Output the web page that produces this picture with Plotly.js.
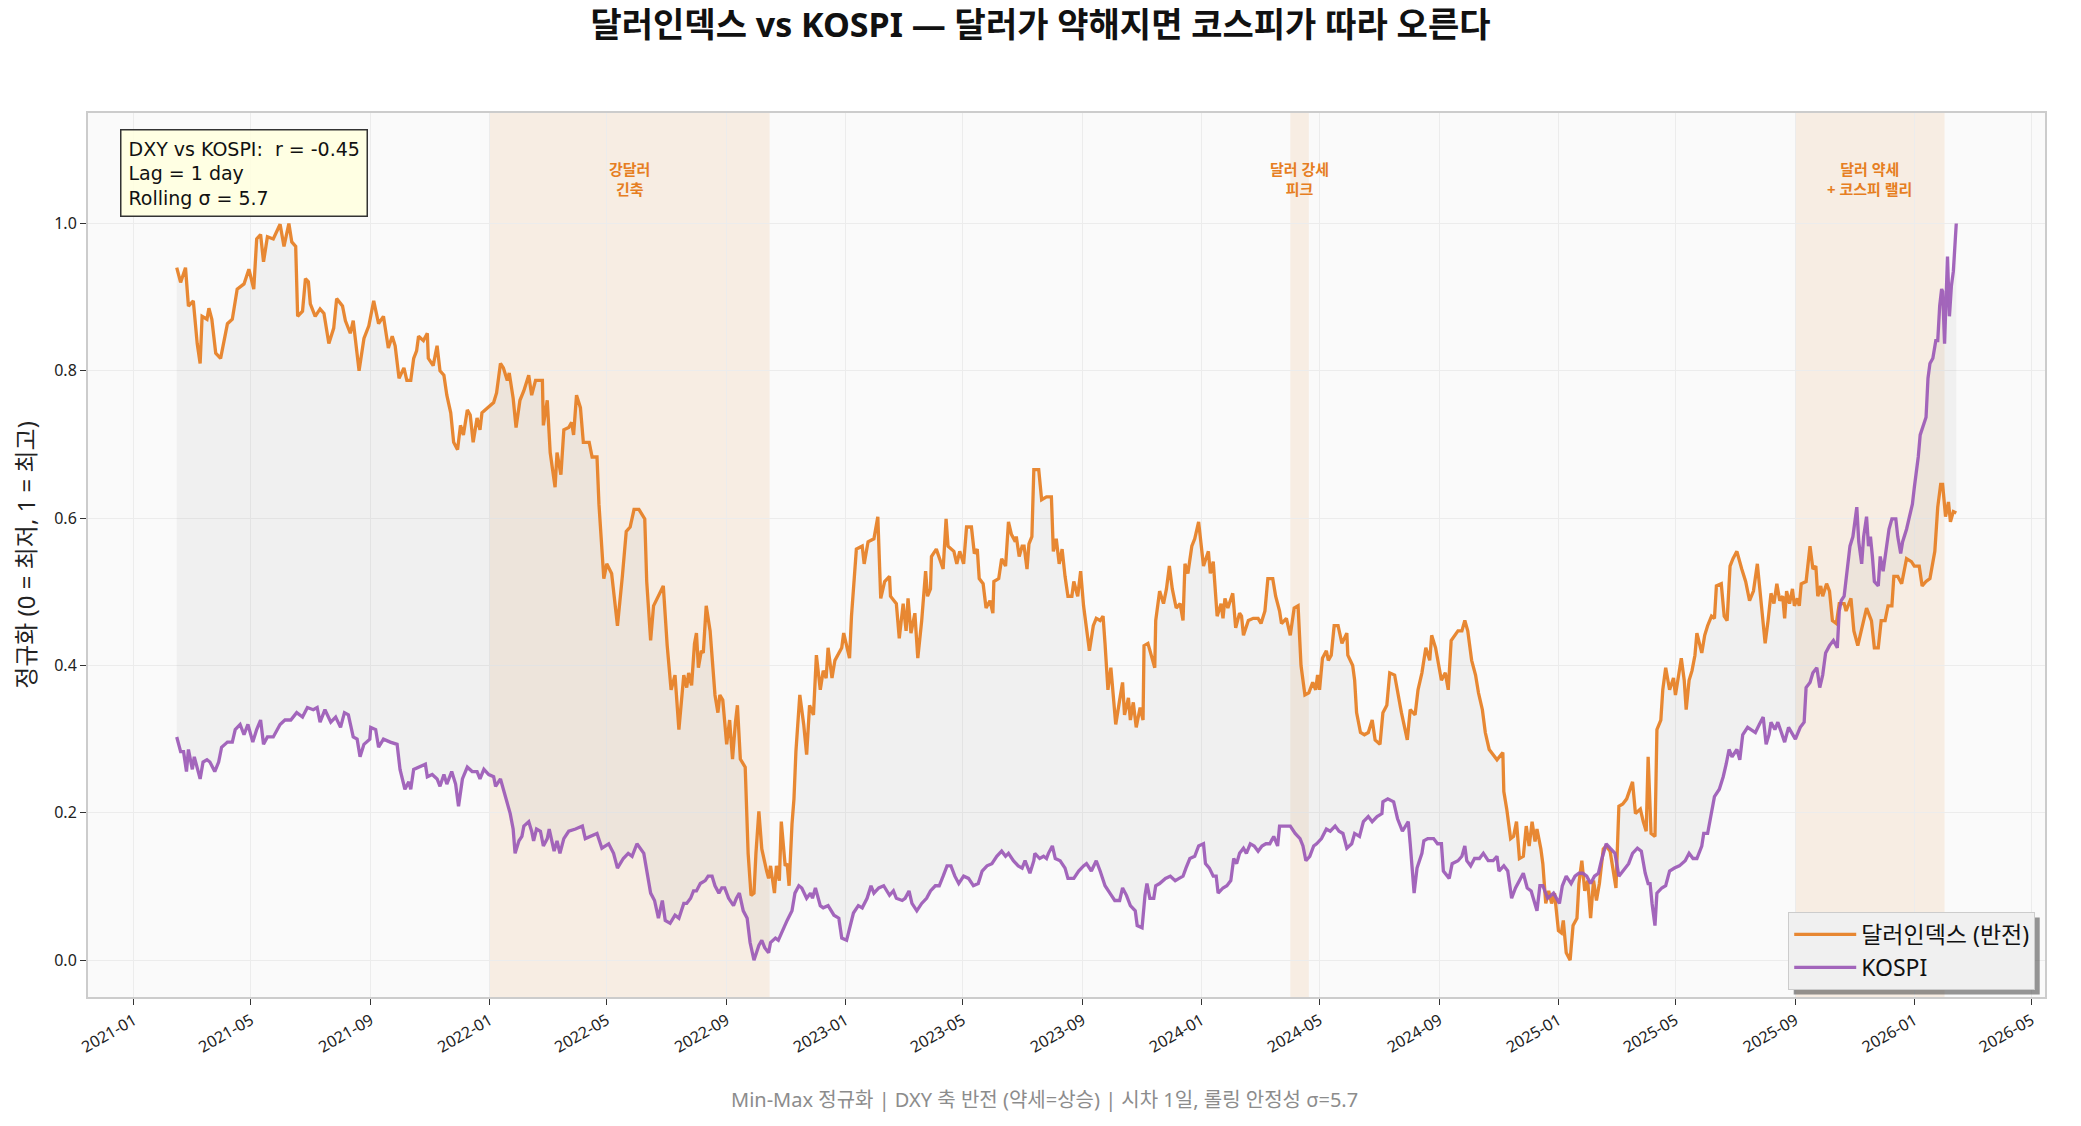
<!DOCTYPE html>
<html>
<head>
<meta charset="utf-8">
<script src="https://cdn.plot.ly/plotly-3.0.1.min.js"></script>
<style>
  html, body { margin: 0; padding: 0; background: #ffffff; }
  #chart { width: 2081px; height: 1126px; }
</style>
</head>
<body>
<div id="chart"></div>
<script>
// x values are days since 2021-01-01
const dxyDays = [
  44,48,53,56,61,65,68,70,75,77, 80,84,89,96,101,106,113,118,123,126,
  130,133,137,143,150,154,159,162,166,168, 173,176,179,181,186,191,195,200,205,208,
  214,217,222,225,231,236,241,246,251,256, 261,265,268,272,277,280,284,287,290,292,
  297,301,302,307,311,314,318,321,325,328, 332,335,338,342,345,348,352,355,357,366,
  369,372,376,379,383,385,389,392,396,400, 405,408,412,419,420,424,427,432,434,438,
  441,446,449,451,454,458,461,467,470,475, 477,482,485,490,496,501,505,509,513,518,
  524,526,530,533,538,543,547,551,555,559,
  564,567,569,572,575,577,579,582,584,587, 591,594,596,599,601,604,608,611,614,617,
  619,622,627,630,633,636,638,641,644,649, 651,653,657,659,662,664,668,670,672,675,
  677,679,683,687,690,693,697,700,704,707, 710,712,716,719,723,726,728,731,734,736,
  738,741,747,749,753,759,763,766,770,775, 776,782,785,789,792,794,797,801,804,808,
  812,814,817,818,823,830,833,835,841,844, 847,851,854,859,862,865,867,871,874,878,
  881,882,887,890,894,897,900,904,905,908, 911,913,916,918,921,923,928,931,936,941,
  943,946,949,952,955,958,962,964,968,971, 974,977,980,984,987,991,994,996,999,1002,
  1004,1007,1011,1014,1016,1020,1022,1025,1028,1032, 1035,1036,1040,1043,1047,1048,1052,1056,1059,1062,
  1065,1069,1073,1076,1078,1081,1085,1088,1092,
  1097,1102,1104,1107,1111,1115,1117,1119,1122,1127, 1130,1134,1136,1138,1143,1148,1153,1156,1160,1163,
  1168,1171,1175,1177,1182,1186,1190,1194,1197,1201, 1205,1209,1212,1214,1216,1219,1223,1225,1228,1231,
  1235,1239,1244,1245,1250,1252,1254,1258,1262,1266, 1270,1273,1278,1281,1285,1288,1293,1297,1300,1306,
  1309,1314,1317,1321,1325,1329,1331,1335,1338,1341, 1345,1348,1351,1355,1358,1362,1365,1368,1372,1376,
  1379,1383,1386,1390,1394,1398,1404,1405,1408,1412, 1415,1418,1421,1425,1428,1431,1434,1437,1439,1443,
  1445,1448,1451,1454,1457,1461,1464,1466,1469,1473, 1476,1480,1482,1485,1488,1491,1494,1497,1500,1503,
  1507,1510,1514,1517,1520,1523,1527,1531,1534,1537, 1540,1545,1548,1551,1553,1556,1560,1562,1566,1568,
  1571,1575,1579,1581,1585,1587,1590,1592,1595,1598, 1601,1603,1608,1611,1614,1618,1621,
  1623,1628,1631,1634,1637,1640,1644,1649,1653,1657, 1661,1665,1667,1670,1673,1676,1679,1682,1685,1688,
  1691,1693,1695,1698,1701,1703,1706,1708,1710,1715, 1717,1719,1722,1725,1727,1730,1732,1736,1739,1742,
  1746,1749,1754,1756,1761,1764,1768,1772,1777,1782, 1785,1789,1792,1796,1799,1803,1805,1809,1813,1818,
  1823,1826,1831,1834,1838,1842,1847,1850,1853,1855, 1858,1861,1863,1866,1869
];
// dollar index, min-max normalised and inverted (weak dollar = up)
const dxyVals = [
  0.94,0.92,0.94,0.888,0.895,0.837,0.81,0.874,0.87,0.885, 0.87,0.824,0.817,0.864,0.87,0.911,0.918,0.938,0.911,0.979,
  0.985,0.948,0.982,0.979,0.999,0.969,1.0,0.975,0.969,0.874, 0.881,0.925,0.921,0.891,0.874,0.884,0.878,0.837,0.858,0.898,
  0.888,0.868,0.851,0.868,0.8,0.844,0.861,0.895,0.864,0.874, 0.831,0.847,0.834,0.79,0.804,0.787,0.787,0.817,0.827,0.847,
  0.841,0.851,0.817,0.807,0.834,0.8,0.794,0.767,0.743,0.703, 0.693,0.726,0.713,0.747,0.74,0.703,0.736,0.72,0.743,0.753,
  0.757,0.77,0.81,0.804,0.787,0.797,0.763,0.723,0.76,0.773, 0.794,0.767,0.787,0.787,0.726,0.76,0.689,0.642,0.689,0.659,
  0.72,0.723,0.73,0.713,0.767,0.75,0.703,0.703,0.683,0.683, 0.619,0.518,0.538,0.525,0.454,0.521,0.582,0.588,0.612,0.612,
  0.599,0.514,0.434,0.481,0.494,0.508,0.427,0.367,0.387,0.313,
  0.387,0.37,0.39,0.373,0.43,0.444,0.397,0.42,0.417,0.481, 0.447,0.4,0.36,0.336,0.36,0.353,0.293,0.326,0.273,0.323,
  0.346,0.273,0.262,0.145,0.088,0.091,0.145,0.202,0.151,0.121, 0.111,0.128,0.091,0.128,0.108,0.188,0.128,0.131,0.101,0.185,
  0.219,0.283,0.36,0.32,0.279,0.346,0.333,0.414,0.367,0.393, 0.383,0.424,0.383,0.407,0.417,0.424,0.444,0.427,0.41,0.467,
  0.508,0.558,0.562,0.538,0.568,0.572,0.602,0.491,0.514,0.521, 0.494,0.484,0.437,0.484,0.447,0.491,0.444,0.471,0.41,0.461,
  0.528,0.494,0.504,0.548,0.558,0.531,0.599,0.562,0.555,0.538, 0.555,0.538,0.588,0.588,0.552,0.558,0.518,0.511,0.478,0.488,
  0.471,0.514,0.518,0.545,0.535,0.595,0.578,0.568,0.575,0.548, 0.562,0.562,0.531,0.565,0.575,0.666,0.666,0.625,0.629,0.629,
  0.555,0.572,0.538,0.558,0.521,0.494,0.494,0.514,0.494,0.528, 0.481,0.447,0.42,0.454,0.464,0.461,0.467,0.43,0.367,0.397,
  0.36,0.32,0.353,0.377,0.333,0.356,0.326,0.35,0.316,0.343, 0.326,0.427,0.43,0.414,0.397,0.461,0.501,0.484,0.504,0.535,
  0.504,0.478,0.484,0.461,0.538,0.525,0.562,0.572,0.595,
  0.535,0.555,0.525,0.541,0.467,0.484,0.464,0.491,0.478,0.498, 0.451,0.471,0.467,0.441,0.461,0.464,0.464,0.457,0.474,0.518,
  0.518,0.494,0.474,0.457,0.464,0.441,0.478,0.481,0.4,0.36, 0.363,0.377,0.367,0.387,0.367,0.41,0.42,0.407,0.414,0.454,
  0.454,0.43,0.444,0.414,0.4,0.38,0.336,0.309,0.306,0.309, 0.326,0.299,0.293,0.336,0.346,0.39,0.387,0.356,0.336,0.299,
  0.34,0.333,0.367,0.39,0.424,0.407,0.441,0.424,0.4,0.38, 0.39,0.367,0.434,0.441,0.447,0.447,0.461,0.447,0.407,0.387,
  0.363,0.34,0.309,0.286,0.279,0.272,0.282,0.229,0.205,0.165, 0.168,0.188,0.138,0.141,0.182,0.155,0.188,0.161,0.178,0.151,
  0.131,0.077,0.094,0.077,0.091,0.04,0.037,0.054,0.01,0.0, 0.047,0.057,0.104,0.135,0.094,0.108,0.057,0.108,0.081,0.104,
  0.151,0.155,0.148,0.125,0.098,0.209,0.212,0.219,0.229,0.242, 0.199,0.205,0.188,0.175,0.276,0.172,0.168,0.313,0.326,0.367,
  0.397,0.367,0.383,0.36,0.393,0.41,0.38,0.34,0.38,0.393, 0.414,0.444,0.417,0.441,0.454,0.467,0.464,
  0.508,0.511,0.467,0.461,0.535,0.545,0.555,0.531,0.514,0.488, 0.501,0.538,0.508,0.474,0.43,0.461,0.498,0.484,0.511,0.488,
  0.494,0.464,0.501,0.484,0.504,0.481,0.491,0.481,0.511,0.514, 0.538,0.562,0.531,0.535,0.494,0.508,0.494,0.511,0.501,0.461,
  0.457,0.484,0.484,0.474,0.491,0.447,0.427,0.451,0.478,0.461, 0.424,0.424,0.461,0.461,0.481,0.481,0.521,0.521,0.511,0.545,
  0.541,0.535,0.535,0.508,0.514,0.518,0.555,0.615,0.646,0.646, 0.602,0.622,0.595,0.609,0.607
];

const kospiDays = [
  44,48,51,54,56,60,62,65,68,71, 75,78,83,87,90,96,101,104,109,113,
  117,122,126,130,133,137,143,150,155,161, 167,173,178,184,188,191,196,202,207,212,
  216,220,225,229,232,236,242,243,248,251, 256,263,270,273,278,282,284,287,292,299,
  301,306,311,314,318,321,326,330,333,337, 342,347,352,355,359,364,369,371,376,379,
  383,386,389,391,395,398,400,405,408,410, 413,417,420,424,426,431,434,437,441,446,
  453,460,463,468,475,480,487,492,496,502, 507,511,516,523,526,530,534,538,542,545,
  550,555,559,
  564,567,571,574,577,581,586,589,593,596, 600,603,606,610,615,618,621,625,629,632,
  636,641,644,647,651,653,658,661,665,670, 675,678,682,685,690,694,696,699,704,707,
  712,718,723,726,731,735,738,743,747,752, 756,759,764,769,775,779,782,788,791,795,
  798,803,808,813,817,822,826,830,834,838, 842,846,851,856,861,866,870,875,880,885,
  890,894,897,902,907,911,914,919,923,924, 929,933,936,938,942,945,950,955,958,964,
  969,974,977,982,987,991,996,1001,1006,1011, 1014,1018,1022,1027,1029,1034,1037,1039,1042,1046,
  1048,1052,1058,1063,1068,1072,1076,1079,1083,1088, 1092,
  1097,1099,1103,1107,1110,1112,1117,1121,1125,1128, 1131,1134,1138,1141,1145,1149,1153,1157,1161,1165,
  1169,1173,1175,1181,1186,1191,1196,1199,1202,1206, 1210,1213,1218,1223,1227,1232,1236,1240,1244,1249,
  1252,1257,1261,1266,1270,1275,1280,1281,1286,1292, 1296,1301,1307,1309,1313,1316,1321,1323,1327,1333,
  1337,1341,1343,1349,1352,1358,1362,1365,1367,1371, 1375,1380,1384,1389,1394,1398,1400,1405,1409,1413,
  1417,1421,1425,1429,1433,1439,1442,1445,1450,1456, 1462,1465,1469,1474,1478,1482,1486,1490,1494,1498,
  1502,1505,1510,1514,1519,1523,1527,1533,1537,1542, 1546,1550,1553,1555,1557,1560,1562,1567,1571,1575,
  1580,1585,1591,1595,1599,1603,1608,1610,1614,1618, 1621,
  1626,1630,1633,1636,1639,1644,1647,1650,1655,1659, 1663,1667,1671,1674,1677,1679,1683,1686,1690,1693,
  1697,1700,1704,1709,1713,1715,1719,1722,1726,1729, 1732,1735,1739,1743,1747,1749,1751,1754,1756,1758,
  1760,1763,1765,1767,1769,1772,1774,1777,1779,1781, 1783,1785,1789,1791,1794,1797,1800,1803,1807,1809,
  1812,1814,1818,1821,1824,1826,1830,1832,1835,1838, 1840,1842,1845,1848,1850,1852,1854,1855,1857,1860,
  1862,1864,1866,1869
];
// KOSPI, min-max normalised
const kospiVals = [
  0.303,0.283,0.283,0.256,0.286,0.259,0.276,0.259,0.246,0.269, 0.272,0.269,0.256,0.269,0.289,0.296,0.296,0.313,0.32,0.306,
  0.32,0.296,0.313,0.326,0.293,0.303,0.303,0.32,0.326,0.326, 0.336,0.33,0.343,0.34,0.343,0.323,0.34,0.323,0.33,0.316,
  0.336,0.333,0.303,0.3,0.276,0.293,0.3,0.316,0.313,0.289, 0.3,0.296,0.293,0.259,0.232,0.242,0.232,0.259,0.262,0.266,
  0.249,0.252,0.246,0.236,0.252,0.239,0.256,0.239,0.209,0.246, 0.262,0.256,0.256,0.246,0.259,0.252,0.249,0.236,0.246,0.232,
  0.215,0.199,0.178,0.145,0.162,0.168,0.182,0.188,0.175,0.162, 0.178,0.175,0.155,0.165,0.178,0.148,0.162,0.145,0.165,0.175,
  0.178,0.182,0.165,0.168,0.172,0.152,0.158,0.145,0.125,0.138, 0.145,0.141,0.158,0.145,0.121,0.091,0.081,0.057,0.081,0.054,
  0.05,0.061,0.057,
  0.077,0.077,0.084,0.094,0.094,0.104,0.108,0.114,0.114,0.101, 0.091,0.098,0.098,0.084,0.074,0.084,0.091,0.067,0.057,0.024,
  0.0,0.02,0.027,0.017,0.01,0.024,0.03,0.027,0.04,0.054, 0.067,0.091,0.101,0.098,0.084,0.091,0.084,0.098,0.074,0.071,
  0.074,0.061,0.057,0.03,0.027,0.047,0.064,0.074,0.071,0.084, 0.101,0.091,0.098,0.101,0.088,0.094,0.084,0.081,0.084,0.094,
  0.077,0.067,0.077,0.084,0.094,0.101,0.101,0.114,0.128,0.128, 0.114,0.104,0.114,0.111,0.101,0.104,0.121,0.128,0.131,0.141,
  0.148,0.141,0.145,0.135,0.128,0.125,0.135,0.118,0.135,0.145, 0.138,0.141,0.138,0.145,0.155,0.138,0.135,0.125,0.111,0.111,
  0.121,0.128,0.131,0.121,0.135,0.121,0.101,0.091,0.081,0.081, 0.098,0.088,0.074,0.067,0.047,0.044,0.088,0.104,0.084,0.084,
  0.101,0.104,0.111,0.114,0.108,0.111,0.114,0.125,0.138,0.141, 0.155,
  0.158,0.131,0.125,0.114,0.114,0.091,0.098,0.101,0.108,0.138, 0.131,0.145,0.152,0.145,0.158,0.155,0.148,0.155,0.158,0.158,
  0.168,0.155,0.182,0.182,0.182,0.172,0.165,0.155,0.135,0.141, 0.155,0.158,0.165,0.178,0.175,0.182,0.175,0.172,0.152,0.158,
  0.172,0.168,0.188,0.195,0.188,0.195,0.199,0.215,0.219,0.215, 0.192,0.175,0.188,0.158,0.091,0.125,0.145,0.162,0.165,0.165,
  0.158,0.158,0.121,0.111,0.131,0.135,0.141,0.155,0.135,0.128, 0.138,0.138,0.145,0.135,0.135,0.141,0.121,0.128,0.121,0.084,
  0.098,0.108,0.118,0.098,0.094,0.067,0.101,0.101,0.084,0.091, 0.077,0.101,0.114,0.104,0.114,0.118,0.118,0.114,0.104,0.114,
  0.118,0.135,0.158,0.152,0.145,0.114,0.121,0.131,0.145,0.152, 0.148,0.118,0.104,0.104,0.077,0.047,0.091,0.098,0.101,0.121,
  0.125,0.128,0.135,0.145,0.138,0.138,0.155,0.172,0.172,0.202, 0.222,
  0.232,0.249,0.266,0.286,0.276,0.286,0.272,0.306,0.316,0.313, 0.309,0.32,0.33,0.293,0.306,0.323,0.313,0.323,0.309,0.296,
  0.316,0.309,0.3,0.316,0.323,0.37,0.377,0.39,0.397,0.37, 0.387,0.417,0.427,0.434,0.424,0.474,0.488,0.494,0.514,0.541,
  0.562,0.575,0.595,0.615,0.568,0.538,0.575,0.602,0.562,0.575, 0.548,0.514,0.508,0.548,0.528,0.558,0.585,0.599,0.599,0.575,
  0.552,0.568,0.585,0.602,0.619,0.642,0.683,0.713,0.727,0.737, 0.79,0.81,0.817,0.841,0.841,0.888,0.911,0.908,0.837,0.955,
  0.874,0.915,0.935,1.0
];

// shaded periods
const bandStarts = ["2022-01-01", "2024-04-01", "2025-09-01"];
const bandEnds = ["2022-10-15", "2024-04-20", "2026-02-01"];
const bandLabels = ["강달러<br>긴축", "달러 강세<br>피크", "달러 약세<br>+ 코스피 랠리"];

const statsLines = ["DXY vs KOSPI:  r = -0.45", "Lag = 1 day", "Rolling σ = 5.7"];
const footNote = "Min-Max 정규화 | DXY 축 반전 (약세=상승) | 시차 1일, 롤링 안정성 σ=5.7";

const orange = "#e67e22";
const purple = "#9b59b6";
// Latin glyphs from Noto Sans, Hangul falls back to the CJK face
const fontFamily = "'Noto Sans', 'Noto Sans CJK KR', sans-serif";
const boxFamily = "'DejaVu Sans', 'Noto Sans', sans-serif";

function toDate(d) {
  return new Date(Date.UTC(2021, 0, 1) + d * 86400000).toISOString().slice(0, 10);
}

function midDate(a, b) {
  const t = (new Date(a).getTime() + new Date(b).getTime()) / 2;
  return new Date(t).toISOString().slice(0, 10);
}

const dxyX = dxyDays.map(toDate);
const kospiX = kospiDays.map(toDate);

// grey area between the two lines
const gapTrace = {
  x: dxyX.concat(kospiX.slice().reverse()),
  y: dxyVals.concat(kospiVals.slice().reverse()),
  type: "scatter",
  mode: "lines",
  fill: "toself",
  fillcolor: "rgba(140,140,140,0.09)",
  line: { width: 0 },
  hoverinfo: "skip",
  showlegend: false,
};

const dxyTrace = {
  x: dxyX,
  y: dxyVals,
  type: "scatter",
  mode: "lines",
  name: "달러인덱스 (반전)",
  line: { color: orange, width: 3.3 },
  opacity: 0.92,
};

const kospiTrace = {
  x: kospiX,
  y: kospiVals,
  type: "scatter",
  mode: "lines",
  name: "KOSPI",
  line: { color: purple, width: 3.3 },
  opacity: 0.92,
};

const shapes = bandStarts.map((s, i) => ({
  type: "rect",
  xref: "x",
  yref: "paper",
  x0: s,
  x1: bandEnds[i],
  y0: 0,
  y1: 1,
  fillcolor: "rgba(230,126,34,0.1)",
  line: { width: 0 },
  layer: "below",
}));

const annotations = bandLabels.map((t, i) => ({
  x: midDate(bandStarts[i], bandEnds[i]),
  y: 1.06,
  xref: "x",
  yref: "y",
  text: "<b>" + t + "</b>",
  showarrow: false,
  font: { family: fontFamily, size: 15, color: orange },
  align: "center",
  xanchor: "center",
  yanchor: "middle",
}));

annotations.push({
  x: 0.0164,
  y: 0.982,
  xref: "paper",
  yref: "paper",
  text: statsLines.join("<br>"),
  showarrow: false,
  align: "left",
  xanchor: "left",
  yanchor: "top",
  font: { family: boxFamily, size: 19, color: "#111111" },
  bgcolor: "rgba(255,255,224,0.9)",
  bordercolor: "#333333",
  borderwidth: 1.5,
  borderpad: 7,
});

annotations.push({
  x: 0.489,
  y: -0.116,
  xref: "paper",
  yref: "paper",
  text: footNote,
  showarrow: false,
  xanchor: "center",
  yanchor: "middle",
  font: { family: fontFamily, size: 20, color: "#8c8c8c" },
});

const layout = {
  width: 2081,
  height: 1126,
  margin: { l: 88, r: 36, t: 113, b: 129 },
  paper_bgcolor: "#ffffff",
  plot_bgcolor: "#fafafa",
  font: { family: fontFamily, size: 16, color: "#222222" },
  title: {
    text: "<b>달러인덱스 vs KOSPI — 달러가 약해지면 코스피가 따라 오른다</b>",
    x: 0.5,
    xref: "container",
    y: 0.978,
    yref: "container",
    yanchor: "middle",
    font: { family: fontFamily, size: 34, color: "#111111" },
  },
  xaxis: {
    type: "date",
    range: ["2020-11-15", "2026-05-15"],
    tick0: "2021-01-01",
    dtick: "M4",
    tickformat: "%Y-%m",
    tickangle: -30,
    ticks: "outside",
    ticklen: 6,
    tickwidth: 1.3,
    tickcolor: "#333333",
    tickfont: { size: 16 },
    showgrid: true,
    gridcolor: "#ececec",
    gridwidth: 1,
    showline: true,
    mirror: true,
    linecolor: "#cccccc",
    linewidth: 2,
    zeroline: false,
  },
  yaxis: {
    range: [-0.05, 1.15],
    tickvals: [0, 0.2, 0.4, 0.6, 0.8, 1.0],
    tickformat: ".1f",
    ticks: "outside",
    ticklen: 6,
    tickwidth: 1.3,
    tickcolor: "#333333",
    tickfont: { size: 16 },
    showgrid: true,
    gridcolor: "#ececec",
    gridwidth: 1,
    showline: true,
    mirror: true,
    linecolor: "#cccccc",
    linewidth: 2,
    zeroline: false,
    title: {
      text: "정규화 (0 = 최저, 1 = 최고)",
      font: { size: 24, color: "#222222" },
      standoff: 12,
    },
  },
  legend: {
    x: 0.995,
    y: 0.008,
    xanchor: "right",
    yanchor: "bottom",
    bgcolor: "#f0f0f0",
    bordercolor: "#cccccc",
    borderwidth: 1,
    font: { family: fontFamily, size: 23, color: "#111111" },
    itemwidth: 62,
  },
  shapes: shapes,
  annotations: annotations,
  showlegend: true,
  hovermode: false,
};

Plotly.newPlot("chart", [gapTrace, dxyTrace, kospiTrace], layout, {
  displayModeBar: false,
  staticPlot: true,
}).then(function (gd) {
  // drop shadow sized from the legend box that was actually drawn
  const bg = gd.querySelector(".legend .bg");
  if (!bg) return;
  const box = bg.getBoundingClientRect();
  const fs = gd._fullLayout._size;
  const off = 5;
  const x0 = (box.left + off - fs.l) / fs.w;
  const x1 = (box.right + off - fs.l) / fs.w;
  const y0 = 1 - (box.bottom + off - fs.t) / fs.h;
  const y1 = 1 - (box.top + off - fs.t) / fs.h;
  const shadow = {
    type: "rect", xref: "paper", yref: "paper",
    x0: x0, x1: x1, y0: y0, y1: y1,
    fillcolor: "rgba(80,80,80,0.6)", line: { width: 0 }, layer: "above",
  };
  Plotly.relayout(gd, { shapes: shapes.concat([shadow]) });
});
</script>
</body>
</html>
